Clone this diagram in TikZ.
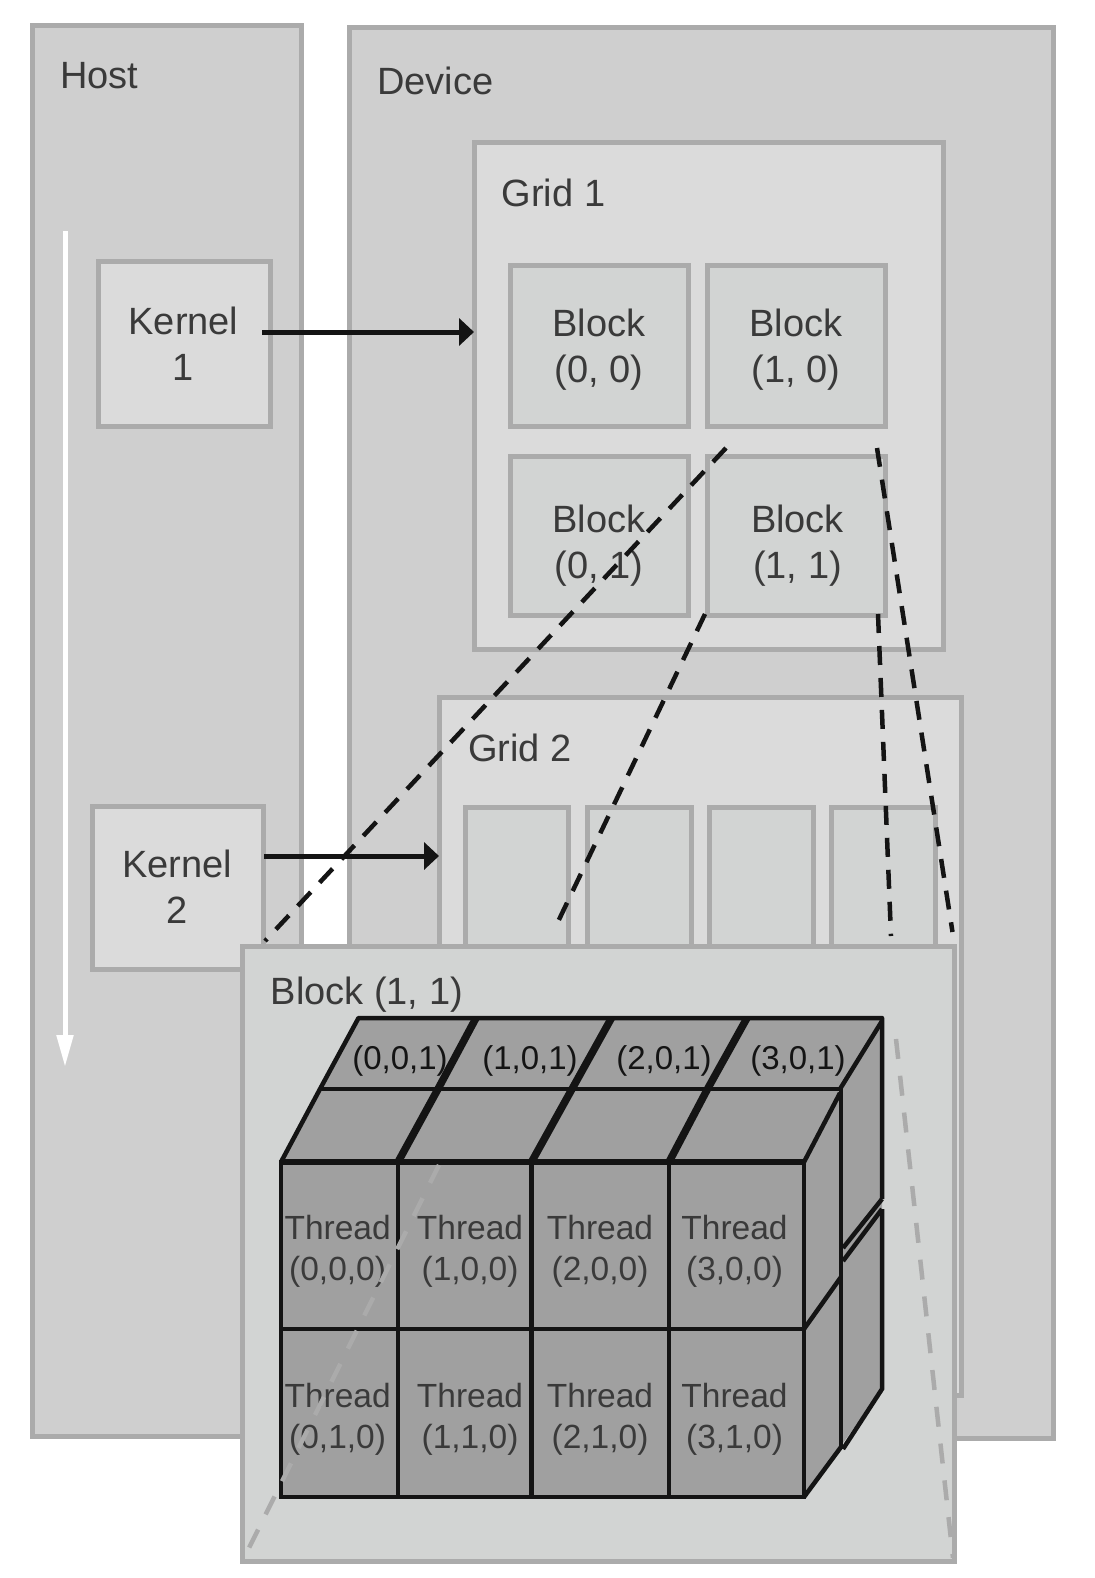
\documentclass[tikz,border=0pt]{standalone}
\usepackage{fontspec}
\setmainfont{Liberation Sans}
\usetikzlibrary{arrows.meta}
\definecolor{edgegray}{HTML}{ABABAB}
\definecolor{hostfill}{HTML}{CFCFCF}
\definecolor{gridfill}{HTML}{DBDBDB}
\definecolor{blockfill}{HTML}{D2D4D3}
\definecolor{cubefill}{HTML}{A0A0A0}
\definecolor{inkdark}{HTML}{141414}
\definecolor{labelgray}{HTML}{3A3A3A}
\tikzset{
  panelbox/.style={draw=edgegray,line width=5pt,inner sep=0pt,outer sep=0pt,anchor=north west},
  hostbox/.style={panelbox,fill=hostfill},
  gridbox/.style={panelbox,fill=gridfill},
  blockbox/.style={panelbox,fill=blockfill},
  lbl/.style={text=labelgray,font=\fontsize{38}{46}\selectfont,inner sep=0pt,align=center},
  lblw/.style={lbl,anchor=west},
  thr/.style={text=labelgray,font=\fontsize{33.5}{41.5}\selectfont,inner sep=0pt,align=center},
  top/.style={text=inkdark,font=\fontsize{33}{40}\selectfont,inner sep=0pt},
  flow/.style={draw=inkdark,line width=5pt,-{Triangle[length=15pt,width=27pt]}},
  blackdash/.style={draw=inkdark,line width=4.5pt,dash pattern=on 19pt off 13pt},
  graydash/.style={draw=edgegray,line width=4.5pt,dash pattern=on 20pt off 17pt},
  cubeline/.style={draw=inkdark,line width=4.5pt},
  cubethick/.style={draw=inkdark,line width=7.5pt},
}
\begin{document}
\begin{tikzpicture}[x=1pt,y=-1pt]
\useasboundingbox (0,0) rectangle (1094,1578);
% coordinates for connector ends
\coordinate (a1s) at (262,332);
\coordinate (a2s) at (264,856);
\coordinate (ws) at (65,231);
\coordinate (we) at (65,1067);
\coordinate (d1s) at (726,448);
\coordinate (d1e) at (265,941);
\coordinate (d2s) at (705,614);
\coordinate (d2e) at (555,928);
\coordinate (d3s) at (877,448);
\coordinate (d3e) at (952.5,932);
\coordinate (d4s) at (878,614);
\coordinate (d4e) at (891,936);
\coordinate (g1s) at (439,1165);
\coordinate (g1e) at (243,1560);
\coordinate (g2s) at (896,1039);
\coordinate (g2e) at (953,1558);
% panels
\node[hostbox,minimum width=269pt,minimum height=1410pt] (host) at (32,26) {};
\node[hostbox,minimum width=704pt,minimum height=1410pt] (device) at (349,28) {};
\node[lblw] (hostl) at (60,76) {Host};
\node[lblw] (devl) at (377,81) {Device};
\node[gridbox,minimum width=172pt,minimum height=164pt] (k1) at (98,262) {};
\node[gridbox,minimum width=171pt,minimum height=163pt] (k2) at (92,806) {};
\node[lbl] (k1l) at (183.5,344) {Kernel\\1};
\node[lbl] (k2l) at (177,887) {Kernel\\2};
\draw[draw=white,line width=5pt,-{Triangle[length=32pt,width=16pt]}] (ws) -- (we);
% grid 1
\node[gridbox,minimum width=469pt,minimum height=506pt] (g1) at (474,143) {};
\node[lblw] (g1l) at (501.5,193) {Grid 1};
\node[blockbox,minimum width=178pt,minimum height=160pt] (b00) at (510,266) {};
\node[blockbox,minimum width=178pt,minimum height=160pt] (b10) at (707,266) {};
\node[blockbox,minimum width=178pt,minimum height=159pt] (b01) at (510,456) {};
\node[blockbox,minimum width=178pt,minimum height=159pt] (b11) at (707,456) {};
\node[lbl] (b00l) at (599,349.5) {Block\\(0, 0)};
\node[lbl] (b10l) at (796,349.5) {Block\\(1, 0)};
\node[lbl] (b01l) at (599,545.5) {Block\\(0, 1)};
\node[lbl] (b11l) at (797.5,545.5) {Block\\(1, 1)};
% grid 2
\node[gridbox,minimum width=522pt,minimum height=698pt] (g2) at (439,697) {};
\node[lblw] (g2l) at (468,748) {Grid 2};
\node[blockbox,minimum width=103pt,minimum height=200pt] (c0) at (465,807) {};
\node[blockbox,minimum width=104pt,minimum height=200pt] (c1) at (587,807) {};
\node[blockbox,minimum width=104pt,minimum height=200pt] (c2) at (709,807) {};
\node[blockbox,minimum width=104pt,minimum height=200pt] (c3) at (831,807) {};
% arrows and dashed lines
\draw[flow] (a1s) -- (g1.west |- a1s);
\draw[flow] (a2s) -- (g2.west |- a2s);
\draw[blackdash] (d1s) -- (d1e);
\draw[blackdash] (d2s) -- (d2e);
\draw[blackdash] (d3s) -- (d3e);
\draw[blackdash] (d4s) -- (d4e);
% zoomed block
\node[blockbox,minimum width=712pt,minimum height=615pt] (blk) at (242.5,946) {};
\node[lblw] (blkl) at (270.5,995) {Block (1, 1)};
% cube
\fill[cubefill] (358.5,1018) -- (882,1018) -- (882,1389) -- (804,1497) -- (281,1497) -- (281,1162) -- cycle;
\foreach \xa/\xb in {398/438,531.5/572,669/707.5}{\draw[cubethick] (\xa,1162) -- (\xb,1089);}
\foreach \xa/\xb in {438/476,572/611.5,707.5/747}{\draw[cubethick] (\xa,1089) -- (\xb,1018);}
\draw[cubeline,line join=round] (281,1162) -- (320,1089) -- (358.5,1018) -- (882,1018) -- (882,1199);
\draw[cubeline] (320,1089) -- (840,1089);
\draw[cubeline] (840,1089) -- (882,1021);
\draw[cubeline] (804,1162) -- (840,1093);
\draw[cubeline] (841,1089) -- (841,1449);
\draw[cubeline] (882,1199) -- (843,1248);
\draw[cubeline] (882,1209) -- (843,1261);
\draw[cubeline] (882,1209) -- (882,1389) -- (843,1449);
\draw[cubeline] (804,1329) -- (841,1277);
\draw[cubeline] (804,1497) -- (841,1447);
\draw[cubeline] (281,1162) rectangle (804,1497);
\draw[cubeline,line width=6pt] (281,1162) -- (804,1162);
\draw[cubeline] (281,1329) -- (804,1329);
\foreach \x in {398,531.5,669}{\draw[cubeline] (\x,1162) -- (\x,1497);}
% labels in cube
\node[top] (t0) at (400,1061) {(0,0,1)};
\node[top] (t1) at (530,1061) {(1,0,1)};
\node[top] (t2) at (664,1061) {(2,0,1)};
\node[top] (t3) at (798,1061) {(3,0,1)};
\node[thr] (th00) at (337.6,1251.5) {Thread\\(0,0,0)};
\node[thr] (th10) at (470,1251.5) {Thread\\(1,0,0)};
\node[thr] (th20) at (600,1251.5) {Thread\\(2,0,0)};
\node[thr] (th30) at (734.5,1251.5) {Thread\\(3,0,0)};
\node[thr] (th01) at (337.6,1419.5) {Thread\\(0,1,0)};
\node[thr] (th11) at (470,1419.5) {Thread\\(1,1,0)};
\node[thr] (th21) at (600,1419.5) {Thread\\(2,1,0)};
\node[thr] (th31) at (734.5,1419.5) {Thread\\(3,1,0)};
\draw[graydash] (g1s) -- (g1e);
\draw[graydash] (g2s) -- (g2e);
\end{tikzpicture}
\end{document}
